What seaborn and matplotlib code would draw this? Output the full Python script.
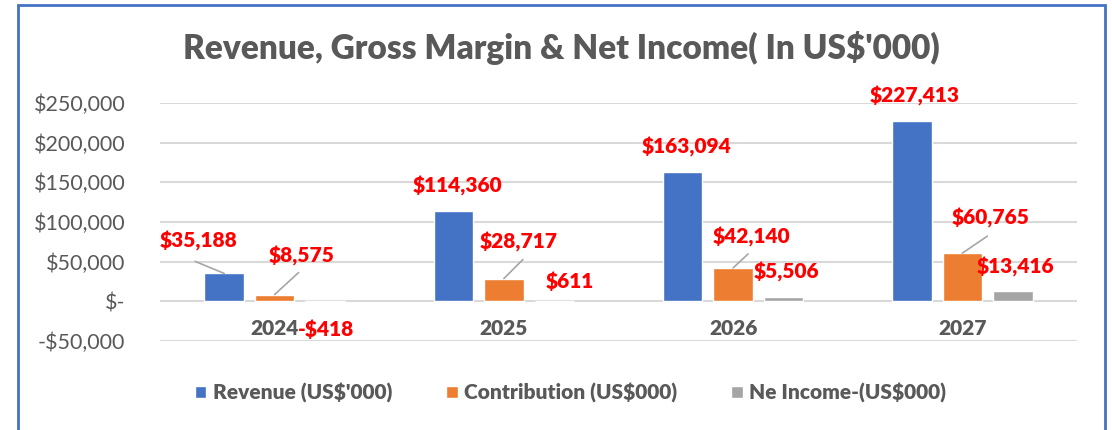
import pandas as pd
import seaborn as sns
import matplotlib.pyplot as plt
from matplotlib.patches import Rectangle, Patch
from matplotlib.ticker import FuncFormatter

years = ['2024', '2025', '2026', '2027']
series = ["Revenue (US$'000)", 'Contribution (US$000)', 'Ne Income-(US$000)']
revenue = [35188, 114360, 163094, 227413]
contribution = [8575, 28717, 42140, 60765]
net_income = [-418, 611, 5506, 13416]
colors = ['#4472C4', '#ED7D31', '#A5A5A5']

df = pd.DataFrame({
    'year': years * 3,
    'series': [series[0]] * 4 + [series[1]] * 4 + [series[2]] * 4,
    'value': revenue + contribution + net_income,
})

# label offsets (pixels) from each bar top, and leader line starts (None = no leader)
label_off = [
    [(-26, 32), (4, 25), (4, 25), (3, 25)],
    [(27, 39), (15, 37), (18, 31), (28, 35)],
    [(1, -28), (15, 20), (3, 25), (3, 24)],
]
leader_off = [
    [(-29, 12), None, None, None],
    [(24, 22), (19, 19), (15, 14), (25, 17)],
    [None, None, None, None],
]

sns.set_style('white')
plt.rcParams['font.family'] = ['Lato', 'DejaVu Sans']
txt = '#595959'
bold = 'heavy'

fig = plt.figure(figsize=(11.12, 4.30), dpi=100)
ax = fig.add_axes([160 / 1112, 89 / 430, 917 / 1112, 238 / 430])

sns.barplot(data=df, x='year', y='value', hue='series', palette=colors,
            width=0.66, gap=0.216, saturation=1, errorbar=None, ax=ax, legend=False)

ax.set_ylim(-50000, 250000)
ax.set_xlim(-0.5, 3.5)
ax.set_yticks(range(-50000, 250001, 50000))
ax.yaxis.set_major_formatter(FuncFormatter(
    lambda v, p: '$-' if v == 0 else ('-$' if v < 0 else '$') + f'{abs(v):,.0f}'))
ax.grid(axis='y', color='#d9d9d9', lw=1.5)
ax.set_axisbelow(True)
for s in ['top', 'right', 'left']:
    ax.spines[s].set_visible(False)
ax.spines['bottom'].set_position(('data', 0))
ax.spines['bottom'].set_visible(False)
ax.tick_params(axis='y', length=0, pad=25, labelsize=15.5, labelcolor=txt)
ax.tick_params(axis='x', length=0, pad=13, labelsize=15, labelcolor=txt)
ax.set_xticks(range(len(years)), years, fontweight=bold)
ax.set_xlabel('')
ax.set_ylabel('')

for si, cont in enumerate(ax.containers):
    for i, bar in enumerate(cont.patches):
        x = bar.get_x() + bar.get_width() / 2
        h = bar.get_height()
        val = [revenue, contribution, net_income][si][i]
        lab = ('-$' if val < 0 else '$') + f'{abs(val):,}'
        ax.annotate(lab, xy=(x, h), xytext=label_off[si][i], textcoords='offset pixels',
                    ha='center', va='center', color='#FF0000', fontsize=15,
                    fontweight=bold)
        if leader_off[si][i] is not None:
            ax.annotate('', xy=(x, h), xytext=leader_off[si][i], textcoords='offset pixels',
                        arrowprops=dict(arrowstyle='-', color='#a6a6a6', lw=1.2,
                                        shrinkA=0, shrinkB=0))

handles = [Patch(facecolor=c, label=s) for c, s in zip(colors, series)]
leg = fig.legend(handles=handles, loc='center', bbox_to_anchor=(0.513, 0.086), ncol=3,
                 frameon=False, handlelength=0.55, handleheight=0.55, handletextpad=0.3,
                 columnspacing=2.6, prop={'size': 15, 'weight': bold})
for t in leg.get_texts():
    t.set_color(txt)

fig.text(0.505, 0.888, "Revenue, Gross Margin & Net Income( In US$'000)", ha='center',
         va='center', fontsize=24, fontweight=bold, color=txt)

fig.add_artist(Rectangle((18 / 1112, -0.1), 1087 / 1112, 1.1 - 5 / 430,
                         transform=fig.transFigure, fill=False, edgecolor='#4472C4',
                         lw=2, clip_on=False))

fig.savefig('out.png', dpi=100, facecolor='white')
